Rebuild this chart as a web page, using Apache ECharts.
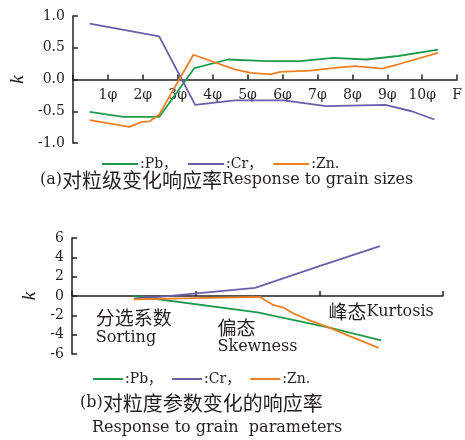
<!DOCTYPE html>
<html><head><meta charset="utf-8">
<script src="https://cdn.jsdelivr.net/npm/echarts@6/dist/echarts.min.js"></script>
<style>html,body{margin:0;padding:0;background:#fff}#c{width:465px;height:440px}</style>
</head><body><div id="c"></div>
<script>
// ---- data ----
const elements = ['Pb', 'Cr', 'Zn'];
const gradeTickLabels = ['', '1φ', '2φ', '3φ', '4φ', '5φ', '6φ', '7φ', '8φ', '9φ', '10φ', 'F'];
const paramLabels = [['分选系数', 'Sorting'], ['偏态', 'Skewness'], ['峰态', 'Kurtosis']];

// (a) response to grain sizes: [grade position, k]
const pbGrain = [[0.48,-0.51],[1.44,-0.59],[2.47,-0.59],[3.48,0.18],[4.44,0.315],[5.57,0.29],[6.51,0.29],[7.45,0.34],[8.39,0.315],[9.32,0.37],[10.45,0.47]];
const crGrain = [[0.48,0.88],[2.47,0.68],[3.5,-0.40],[4.63,-0.33],[6.03,-0.33],[7.25,-0.42],[8.94,-0.40],[9.7,-0.5],[10.35,-0.63]];
const znGrain = [[0.48,-0.64],[1.62,-0.745],[1.95,-0.67],[2.19,-0.66],[2.47,-0.55],[3.45,0.39],[4.63,0.16],[5.1,0.105],[5.66,0.08],[5.94,0.12],[6.79,0.14],[7.63,0.19],[8.1,0.21],[8.85,0.17],[9.32,0.24],[10.45,0.42]];

// (b) response to grain parameters: [parameter position, k]
const pbParam = [[0.5,0],[1.5,-1.7],[2.09,-3.3],[2.5,-4.6]];
const crParam = [[0.5,-0.25],[0.71,-0.1],[1.48,0.85],[2.0,3.1],[2.49,5.17]];
const znParam = [[0.5,-0.35],[1.52,-0.1],[1.63,-0.95],[1.71,-1.19],[1.79,-1.8],[1.9,-2.41],[2.09,-3.33],[2.25,-4.18],[2.48,-5.37]];

// ---- styles ----
const LATIN = '"DejaVu Serif", "Noto Sans CJK SC", serif';
const CJK = '"Noto Sans CJK SC", sans-serif';
const INK = '#231f20';
const COLORS = { Pb: '#1f9a4b', Cr: '#6b5ea8', Zn: '#ef7f22' };

const GA = { left: 69, right: 5, top: 16, height: 127 };
const GB = { left: 72, right: 22, top: 238, height: 116 };

const axisLine = { show: true, onZero: false, lineStyle: { color: INK, width: 1.5 } };
const axisTick = { show: true, inside: true, length: 5, lineStyle: { color: INK, width: 1.5 } };

function line(name, data, idx) {
  return {
    name, type: 'line', data, xAxisIndex: idx, yAxisIndex: idx,
    symbol: 'none', smooth: false,
    lineStyle: { color: COLORS[name], width: 1.8 },
    itemStyle: { color: COLORS[name] }
  };
}

const legendBase = {
  data: elements, icon: 'rect', itemHeight: 2,
  textStyle: { fontFamily: LATIN, fontSize: 14, color: INK, padding: [0, 0, 0, -3] },
  formatter: n => ':' + n + (n === 'Zn' ? '.' : '，'),
  selectedMode: false, padding: 0
};

const capRich = {
  e: { fontFamily: LATIN, fontSize: 16, fontWeight: 'normal', color: INK },
  c: { fontFamily: CJK, fontSize: 20, fontWeight: 'normal', color: INK }
};
const capStyle = { fontWeight: 'normal', color: INK, rich: capRich };

const labRich = {
  g1: { fontSize: 4, lineHeight: 6, align: 'left' },
  g2: { fontSize: 4, lineHeight: 16, align: 'left' },
  c: { fontFamily: CJK, fontSize: 19, lineHeight: 20, align: 'left', color: INK },
  e: { fontFamily: LATIN, fontSize: 16, lineHeight: 20, align: 'left', color: INK },
  e2: { fontFamily: LATIN, fontSize: 16, lineHeight: 18, align: 'left', color: INK }
};

const option = {
  animation: false,
  title: [
    { text: '{e|(a)}{c|对粒级变化响应率}{e|Response to grain sizes}', left: 40, top: 170, padding: 0,
      textStyle: capStyle },
    { text: '{e|(b)}{c|对粒度参数变化的响应率}', left: 80, top: 393, padding: 0,
      textStyle: capStyle },
    { text: '{e|Response to grain  parameters}', left: 92, top: 420, padding: 0,
      textStyle: capStyle }
  ],
  legend: [
    Object.assign({}, legendBase, { left: 102, top: 157, itemWidth: 36, itemGap: 11 }),
    Object.assign({}, legendBase, { left: 93, top: 372, itemWidth: 30, itemGap: 10 })
  ],
  grid: [GA, GB],
  xAxis: [
    { type: 'value', gridIndex: 0, min: 0, max: 11, interval: 1,
      offset: -GA.height / 2,
      axisLine, axisTick, splitLine: { show: false },
      axisLabel: { margin: 9, fontFamily: LATIN, fontSize: 14, color: INK,
        formatter: v => gradeTickLabels[Math.round(v)] || '' } },
    { type: 'value', gridIndex: 1, min: 0, max: 3, interval: 1,
      offset: -GB.height / 2,
      axisLine, axisTick, splitLine: { show: false },
      axisLabel: { margin: 6, customValues: [0.5, 1.5, 2.5], color: INK,
        formatter: v => {
          const i = Math.floor(v);
          const p = paramLabels[i];
          if (i === 0) return '{g1| }\n{c|' + p[0] + '}\n{e|' + p[1] + '}';
          if (i === 1) return '{g2| }\n{c|' + p[0] + '}\n{e2|' + p[1] + '}';
          return '{c|' + p[0] + '}{e|' + p[1] + '}';
        },
        rich: labRich } }
  ],
  yAxis: [
    { type: 'value', gridIndex: 0, min: -1, max: 1, interval: 0.5,
      axisLine, axisTick, splitLine: { show: false },
      name: 'k', nameLocation: 'middle', nameGap: 45, nameRotate: 90,
      nameTextStyle: { fontFamily: '"Liberation Serif", serif', fontSize: 19, fontStyle: 'italic', color: INK },
      axisLabel: { margin: 8, fontFamily: LATIN, fontSize: 14, color: INK,
        formatter: v => v.toFixed(1) } },
    { type: 'value', gridIndex: 1, min: -6, max: 6, interval: 2,
      axisLine, axisTick, splitLine: { show: false },
      name: 'k', nameLocation: 'middle', nameGap: 25, nameRotate: 90,
      nameTextStyle: { fontFamily: '"Liberation Serif", serif', fontSize: 19, fontStyle: 'italic', color: INK },
      axisLabel: { margin: 8, fontFamily: LATIN, fontSize: 14, color: INK } }
  ],
  series: [
    line('Pb', pbGrain, 0), line('Cr', crGrain, 0), line('Zn', znGrain, 0),
    line('Pb', pbParam, 1), line('Cr', crParam, 1), line('Zn', znParam, 1)
  ]
};

const chart = echarts.init(document.getElementById('c'), null, { renderer: 'canvas' });
chart.setOption(option);
</script></body></html>
